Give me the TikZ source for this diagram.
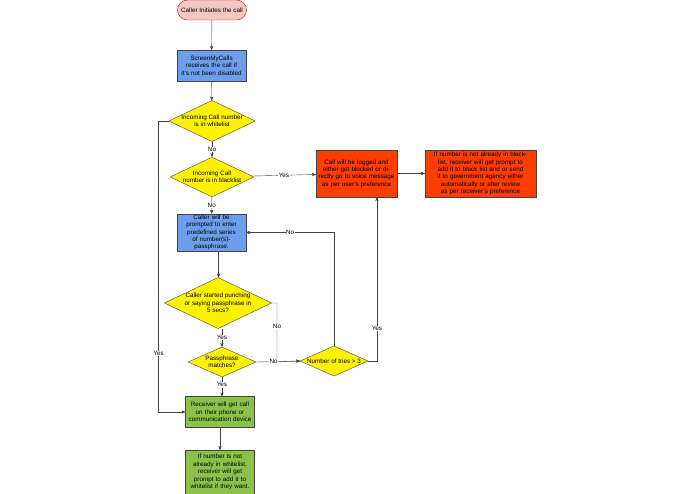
\documentclass[tikz,border=0pt]{standalone}
\usepackage{fontspec}
\setmainfont{Liberation Sans}
\usetikzlibrary{shapes.geometric,arrows}
\definecolor{boxblue}{HTML}{6D9EEB}
\definecolor{boxred}{HTML}{FF3D00}
\definecolor{boxgreen}{HTML}{8BC34A}
\definecolor{boxpink}{HTML}{F4C7C3}
\definecolor{edgegray}{HTML}{444444}
\begin{document}
\begin{tikzpicture}[x=1pt,y=-1pt,>=stealth',thin,
    every node/.style={font=\fontsize{6.3}{7.4}\selectfont,align=center,inner sep=1pt},
    step box/.style={rectangle,draw=edgegray,minimum width=69pt,minimum height=31pt,text width=64pt},
    blue box/.style={step box,fill=boxblue},
    red box/.style={step box,fill=boxred,minimum height=47pt},
    green box/.style={step box,fill=boxgreen},
    decision/.style={diamond,draw=edgegray,fill=yellow,aspect=2.1,inner sep=0pt},
    label text/.style={fill=white,inner sep=0.5pt},
    line/.style={draw=edgegray,->}]
  \useasboundingbox (0,0) rectangle (695,494);
  \node[rounded corners=10pt,draw=boxred!60!black,fill=boxpink,minimum width=69pt,minimum height=20pt] (start) at (212,10) {Caller Initiates the call};
  \node[blue box] (receive) at (211.5,65.5) {ScreenMyCalls receives the call if it's not been disabled};
  \node[decision,minimum width=76pt,minimum height=36pt] (white) at (212,121) {Incoming Call number\\ is in whitelist};
  \node[decision,minimum width=70pt,minimum height=28pt] (black) at (212,177) {Incoming Call\\ number is in blacklist};
  \node[blue box] (prompt) at (211.5,232.5) {Caller will be prompted to enter predefined series of number(s)-passphrase.};
  \node[red box,minimum width=81pt,text width=76pt] (logged) at (356.5,173.5) {Call will be logged and either get blocked or directly go to voice message as per user's preference};
  \node[red box,minimum width=111pt,text width=106pt] (report) at (480.5,173.5) {If number is not already in blacklist, receiver will get prompt to add it to black list and or send it to government agency either automatically or after review as per receiver's preference};
  \node[decision,minimum width=77pt,minimum height=33pt] (started) at (218,303) {Caller started punching\\ or saying passphrase in\\ 5 secs?};
  \node[decision,minimum width=68pt,minimum height=30pt] (match) at (222,362) {Passphrase\\ matches?};
  \node[decision,minimum width=68pt,minimum height=30pt] (tries) at (334,361) {Number of tries > 3};
  \node[green box] (getcall) at (220,412) {Receiver will get call on their phone or communication device};
  \node[green box,minimum height=44pt] (addwhite) at (220,472) {If number is not already in whitelist, receiver will get prompt to add it to whitelist if they want.};
  \path[line] (start) -- (receive);
  \path[line] (receive) -- (white);
  \path[line] (white) -- node[label text] {No} (black);
  \path[line] (black) -- node[label text] {No} (prompt);
  \path[line] (black) -- node[label text] {Yes} (logged);
  \path[line] (logged) -- (report);
  \path[line] (white.west) -- ++(-10,0) |- node[label text,pos=0.4] {Yes} (getcall.west);
  \path[line] (prompt.south) ++(7,0) coordinate (p) -- (p |- started.north);
  \path[line] (started.south) ++(4,0) coordinate (q) -- node[label text] {Yes} (q |- match.north);
  \path[line] (match) -- node[label text,pos=0.4] {Yes} (match.south |- getcall.north);
  \path[line] (getcall) -- (addwhite);
  \path[line] (started.east) -| node[label text,pos=0.7] {No} (277,362) -- (tries.west);
  \path[line] (match.east) -- node[label text,pos=0.4] {No} (tries.west);
  \path[line] (tries.north) |- node[label text,pos=0.75] {No} (prompt.east);
  \path[line] (tries.east) -| node[label text,pos=0.6] {Yes} (logged.south -| 377,0);
\end{tikzpicture}
\end{document}
